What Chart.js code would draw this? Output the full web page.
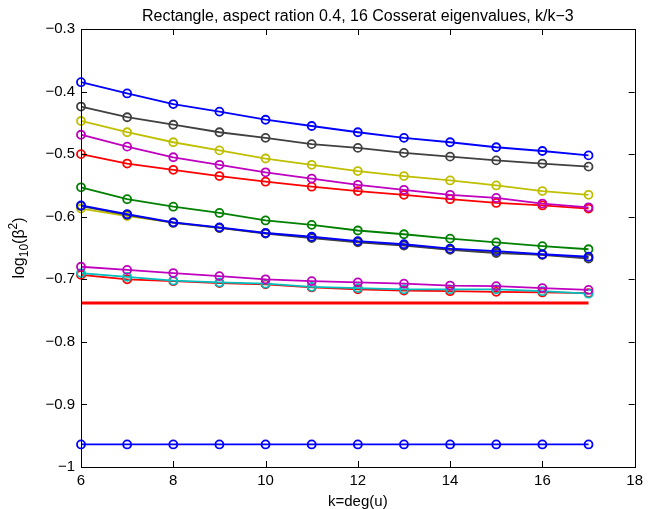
<!DOCTYPE html>
<html>
<head>
<meta charset="utf-8">
<script src="https://cdn.jsdelivr.net/npm/chart.js@4.4.1/dist/chart.umd.min.js"></script>
<style>
  html, body { margin: 0; padding: 0; background: #fff; }
  canvas { display: block; }
</style>
</head>
<body>
<canvas id="chart" width="648" height="509"></canvas>
<script>
// k = deg(u)
const kValues = [6, 7, 8, 9, 10, 11, 12, 13, 14, 15, 16, 17];

// log10(beta^2)
const blue1    = [-0.385, -0.403, -0.420, -0.432, -0.445, -0.455, -0.465, -0.474, -0.481, -0.489, -0.495, -0.502];
const black1   = [-0.424, -0.441, -0.453, -0.465, -0.474, -0.484, -0.490, -0.498, -0.504, -0.510, -0.515, -0.520];
const yellow1  = [-0.447, -0.465, -0.481, -0.494, -0.507, -0.517, -0.527, -0.535, -0.542, -0.550, -0.559, -0.565];
const magenta1 = [-0.469, -0.488, -0.505, -0.517, -0.529, -0.539, -0.549, -0.557, -0.565, -0.570, -0.579, -0.585];
const red1     = [-0.500, -0.515, -0.525, -0.535, -0.544, -0.552, -0.559, -0.565, -0.572, -0.578, -0.582, -0.587];
const green1   = [-0.553, -0.572, -0.584, -0.594, -0.606, -0.613, -0.622, -0.628, -0.635, -0.641, -0.647, -0.652];
const blue2    = [-0.582, -0.596, -0.609, -0.617, -0.626, -0.632, -0.639, -0.644, -0.651, -0.655, -0.660, -0.664];
const black2   = [-0.583, -0.597, -0.610, -0.618, -0.627, -0.634, -0.641, -0.646, -0.653, -0.658, -0.661, -0.667];
const yellow2  = [-0.587, -0.599, -0.609, -0.618, -0.626, -0.633, -0.640, -0.645, -0.652, -0.656, -0.661, -0.665];
const magenta2 = [-0.680, -0.685, -0.690, -0.695, -0.700, -0.703, -0.705, -0.707, -0.710, -0.711, -0.714, -0.717];
const cyan1    = [-0.690, -0.696, -0.702, -0.705, -0.707, -0.712, -0.714, -0.716, -0.716, -0.716, -0.719, -0.723];
const red2     = [-0.693, -0.700, -0.703, -0.706, -0.708, -0.713, -0.716, -0.718, -0.719, -0.720, -0.721, -0.722];
const blue3    = [-0.964, -0.964, -0.964, -0.964, -0.964, -0.964, -0.964, -0.964, -0.964, -0.964, -0.964, -0.964];

// flat reference line (no markers)
const refK = [6, 17];
const refLine = [-0.738, -0.738];

const xTicks = [6, 8, 10, 12, 14, 16, 18];
const yTicks = [-1, -0.9, -0.8, -0.7, -0.6, -0.5, -0.4, -0.3];

const titleText = 'Rectangle, aspect ration 0.4, 16 Cosserat eigenvalues, k/k\u22123';

const FONT = "'Liberation Sans', Arial, Helvetica, sans-serif";

function pts(xs, ys) {
    return xs.map((x, i) => ({x: x, y: ys[i]}));
}

function series(values, color) {
    return {
        data: pts(kValues, values),
        borderColor: color,
        backgroundColor: 'rgba(0,0,0,0)',
        borderWidth: 1.8,
        pointRadius: 4,
        pointBorderWidth: 1.8,
        pointBackgroundColor: 'rgba(0,0,0,0)',
        pointBorderColor: color,
        clip: false
    };
}

function fmt(v) {
    const r = Math.round(v * 10) / 10;
    return (r < 0 ? '\u2212' : '') + Math.abs(r).toString();
}

// box, inward ticks, title over the axes and y label like the original figure
const boxPlugin = {
    id: 'box',
    afterDraw(chart) {
        const ctx = chart.ctx;
        const a = chart.chartArea;
        const xs = chart.scales.x, ys = chart.scales.y;
        const tl = 6;
        ctx.save();
        ctx.strokeStyle = '#000';
        ctx.lineWidth = 1;
        ctx.strokeRect(Math.round(a.left) + 0.5, Math.round(a.top) + 0.5,
            Math.round(a.right - a.left), Math.round(a.bottom - a.top));
        ctx.beginPath();
        xTicks.forEach(t => {
            const px = Math.round(xs.getPixelForValue(t)) + 0.5;
            ctx.moveTo(px, a.bottom); ctx.lineTo(px, a.bottom - tl);
            ctx.moveTo(px, a.top); ctx.lineTo(px, a.top + tl);
        });
        yTicks.forEach(t => {
            const py = Math.round(ys.getPixelForValue(t)) + 0.5;
            ctx.moveTo(a.left, py); ctx.lineTo(a.left + tl, py);
            ctx.moveTo(a.right, py); ctx.lineTo(a.right - tl, py);
        });
        ctx.stroke();

        // title, centred over the axes
        ctx.fillStyle = '#000';
        ctx.font = '16px ' + FONT;
        ctx.textAlign = 'center';
        ctx.textBaseline = 'alphabetic';
        ctx.fillText(titleText, (a.left + a.right) / 2, 21);

        // log10(beta^2)
        const cx = 20, cy = (a.top + a.bottom) / 2;
        const parts = [
            {t: 'log', s: 16, dy: 0},
            {t: '10', s: 12, dy: 5},
            {t: '(\u03B2', s: 16, dy: 0},
            {t: '2', s: 12, dy: -6},
            {t: ')', s: 16, dy: 0}
        ];
        let total = 0;
        parts.forEach(p => { ctx.font = p.s + 'px ' + FONT; p.w = ctx.measureText(p.t).width; total += p.w; });
        ctx.translate(cx, cy);
        ctx.rotate(-Math.PI / 2);
        ctx.textBaseline = 'middle';
        ctx.textAlign = 'left';
        let x = -total / 2;
        parts.forEach(p => {
            ctx.font = p.s + 'px ' + FONT;
            ctx.fillText(p.t, x, p.dy);
            x += p.w;
        });
        ctx.restore();
    }
};

const datasets = [
    series(blue3, '#0000ff'),
    series(magenta2, '#bf00bf'),
    series(cyan1, '#00bfbf'),
    series(red2, '#ff0000'),
    {
        data: pts(refK, refLine),
        borderColor: '#ff0000',
        borderWidth: 3,
        pointRadius: 0,
        clip: false
    },
    series(blue2, '#0000ff'),
    series(black2, '#404040'),
    series(yellow2, '#bfbf00'),
    series(green1, '#008000'),
    series(magenta1, '#bf00bf'),
    series(red1, '#ff0000'),
    series(yellow1, '#bfbf00'),
    series(black1, '#404040'),
    series(blue1, '#0000ff')
];

new Chart(document.getElementById('chart'), {
    type: 'line',
    data: {datasets: datasets},
    options: {
        responsive: false,
        animation: false,
        devicePixelRatio: 1,
        layout: {padding: {left: 0, right: 11, top: 29, bottom: 0}},
        plugins: {
            legend: {display: false},
            tooltip: {enabled: false},
            title: {display: false}
        },
        scales: {
            x: {
                type: 'linear',
                min: 6,
                max: 18,
                grid: {display: false, drawTicks: false},
                border: {display: false},
                afterBuildTicks: s => { s.ticks = xTicks.map(v => ({value: v})); },
                afterFit: s => { s.height = 42; },
                ticks: {
                    color: '#000',
                    padding: 5,
                    maxRotation: 0,
                    font: {family: FONT, size: 15},
                    callback: v => fmt(v)
                },
                title: {
                    display: true,
                    text: 'k=deg(u)',
                    color: '#000',
                    font: {family: FONT, size: 15, lineHeight: 1.0},
                    padding: {top: 0, bottom: 0}
                }
            },
            y: {
                type: 'linear',
                min: -1,
                max: -0.3,
                grid: {display: false, drawTicks: false},
                border: {display: false},
                afterBuildTicks: s => { s.ticks = yTicks.map(v => ({value: v})); },
                afterFit: s => { s.width = 81; },
                ticks: {
                    color: '#000',
                    padding: 6,
                    font: {family: FONT, size: 15},
                    callback: v => fmt(v)
                }
            }
        }
    },
    plugins: [boxPlugin]
});
</script>
</body>
</html>
